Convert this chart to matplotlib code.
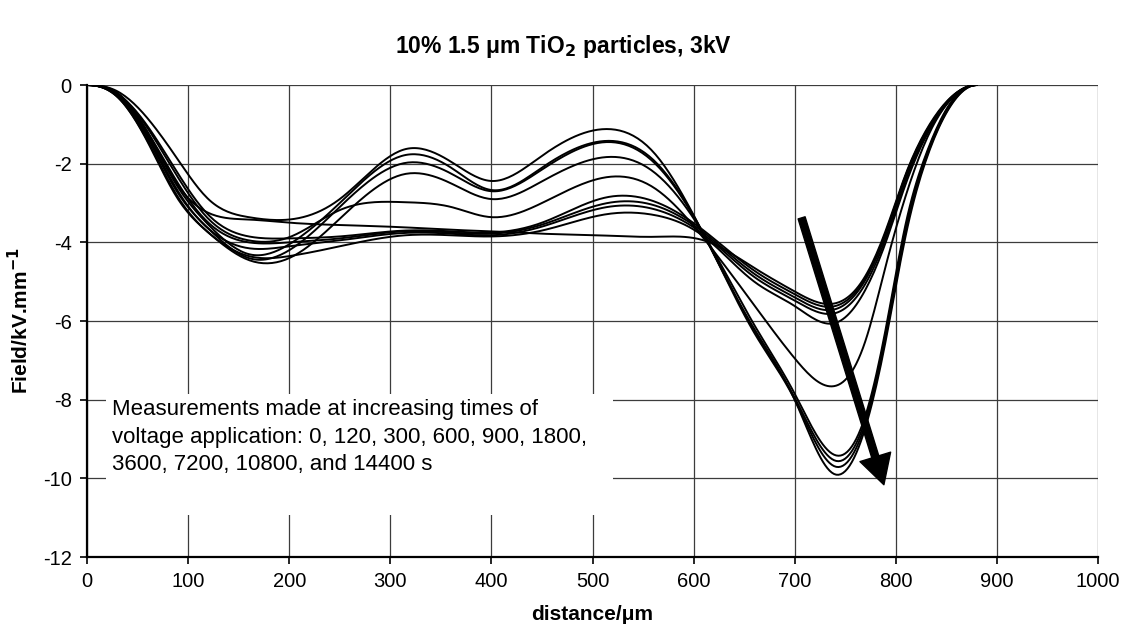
import numpy as np
import matplotlib
matplotlib.use("Agg")
import matplotlib.pyplot as plt
from matplotlib.patches import Rectangle, FancyArrowPatch

plt.rcParams['font.family'] = ['Liberation Sans', 'DejaVu Sans']

# distance positions (µm) at which field values were read
distance = [0, 30, 60, 90, 120, 160, 200, 250, 315, 360, 400, 450, 515, 560,
            610, 660, 700, 740, 770, 790, 810, 830, 855, 880]

# field (kV/mm) for each measurement time
field_0 = [0, -0.20, -1.20, -2.55, -3.25, -3.42, -3.50, -3.56, -3.62, -3.68, -3.72, -3.78,
           -3.83, -3.86, -3.95, -4.65, -5.25, -5.55, -4.85, -3.70, -2.25, -1.15, -0.30, 0]
field_120 = [0, -0.22, -1.05, -2.25, -3.30, -3.85, -3.90, -3.85, -3.70, -3.72, -3.75, -3.50,
             -2.85, -2.95, -3.70, -4.72, -5.32, -5.62, -4.90, -3.75, -2.28, -1.18, -0.31, 0]
field_300 = [0, -0.25, -1.20, -2.50, -3.50, -4.00, -4.00, -3.90, -3.72, -3.75, -3.78, -3.55,
             -3.00, -3.05, -3.75, -4.80, -5.40, -5.70, -4.95, -3.80, -2.30, -1.20, -0.32, 0]
field_600 = [0, -0.27, -1.30, -2.70, -3.65, -4.15, -4.10, -3.95, -3.76, -3.78, -3.82, -3.60,
             -3.10, -3.15, -3.80, -4.88, -5.48, -5.80, -5.05, -3.90, -2.40, -1.25, -0.33, 0]
field_900 = [0, -0.30, -1.42, -2.85, -3.75, -4.35, -4.35, -4.10, -3.82, -3.82, -3.85, -3.70,
             -3.28, -3.30, -3.85, -5.00, -5.62, -6.05, -5.20, -4.00, -2.50, -1.30, -0.35, 0]
field_1800 = [0, -0.22, -1.10, -2.35, -3.40, -3.95, -3.87, -3.18, -2.98, -3.10, -3.36, -3.00,
              -2.34, -2.60, -3.90, -5.60, -6.95, -7.65, -6.50, -4.60, -2.80, -1.40, -0.35, 0]
field_3600 = [0, -0.30, -1.45, -2.90, -3.75, -4.45, -4.40, -3.40, -2.26, -2.50, -2.90, -2.45,
              -1.83, -2.20, -3.80, -6.10, -7.85, -9.41, -8.40, -6.20, -3.50, -1.75, -0.42, 0]
field_7200 = [0, -0.28, -1.35, -2.75, -3.65, -4.40, -4.20, -3.10, -1.98, -2.25, -2.70, -2.15,
              -1.45, -1.95, -3.80, -6.25, -7.95, -9.55, -8.50, -6.30, -3.60, -1.80, -0.45, 0]
field_10800 = [0, -0.26, -1.25, -2.60, -3.55, -4.30, -4.05, -3.00, -1.78, -2.10, -2.67, -2.10,
               -1.42, -1.90, -3.80, -6.30, -8.00, -9.70, -8.60, -6.40, -3.70, -1.85, -0.48, 0]
field_14400 = [0, -0.16, -0.85, -1.90, -2.90, -3.36, -3.42, -2.90, -1.63, -1.95, -2.44, -1.80,
               -1.12, -1.70, -3.80, -6.20, -8.00, -9.90, -8.70, -6.50, -3.80, -1.90, -0.50, 0]

series = [field_0, field_120, field_300, field_600, field_900, field_1800,
          field_3600, field_7200, field_10800, field_14400]

x_ticks = [0, 100, 200, 300, 400, 500, 600, 700, 800, 900, 1000]
y_ticks = [0, -2, -4, -6, -8, -10, -12]

note = ("Measurements made at increasing times of\n"
        "voltage application: 0, 120, 300, 600, 900, 1800,\n"
        "3600, 7200, 10800, and 14400 s")


def smooth(xs, ys, n=400):
    """Clamped cubic spline (zero slope at both ends) through the read points."""
    x = np.asarray(xs, float)
    y = np.asarray(ys, float)
    N = len(x)
    h = np.diff(x)
    A = np.zeros((N, N))
    b = np.zeros(N)
    A[0, 0] = 2 * h[0]
    A[0, 1] = h[0]
    b[0] = 6 * ((y[1] - y[0]) / h[0])
    A[-1, -2] = h[-1]
    A[-1, -1] = 2 * h[-1]
    b[-1] = 6 * (-(y[-1] - y[-2]) / h[-1])
    for i in range(1, N - 1):
        A[i, i - 1] = h[i - 1]
        A[i, i] = 2 * (h[i - 1] + h[i])
        A[i, i + 1] = h[i]
        b[i] = 6 * ((y[i + 1] - y[i]) / h[i] - (y[i] - y[i - 1]) / h[i - 1])
    M = np.linalg.solve(A, b)
    xo = np.linspace(x[0], x[-1], n)
    idx = np.clip(np.searchsorted(x, xo) - 1, 0, N - 2)
    x0, x1 = x[idx], x[idx + 1]
    hh = x1 - x0
    t0 = x1 - xo
    t1 = xo - x0
    yo = (M[idx] * t0**3 / (6 * hh) + M[idx + 1] * t1**3 / (6 * hh)
          + (y[idx] / hh - M[idx] * hh / 6) * t0 + (y[idx + 1] / hh - M[idx + 1] * hh / 6) * t1)
    return xo, yo


fig = plt.figure(figsize=(11.27, 6.43), dpi=100)
ax = fig.add_axes([0.0772, 0.1337, 0.8971, 0.7341])

ax.set_xlim(0, 1000)
ax.set_ylim(-12, 0)
ax.set_xticks(x_ticks)
ax.set_yticks(y_ticks)
ax.set_xticklabels([str(v) for v in x_ticks])
ax.set_yticklabels([str(v) for v in y_ticks])
ax.tick_params(axis='both', labelsize=14.5, direction='out', length=5, width=1.2,
               color='black', pad=6)

for v in x_ticks:
    ax.axvline(v, color='#3c3c3c', lw=0.9, zorder=1)
for v in y_ticks:
    ax.axhline(v, color='#3c3c3c', lw=0.9, zorder=1)

for side in ['top', 'right']:
    ax.spines[side].set_visible(False)
for side in ['left', 'bottom']:
    ax.spines[side].set_linewidth(1.6)
    ax.spines[side].set_color('black')
    ax.spines[side].set_zorder(5)

for ys in series:
    sx, sy = smooth(distance, ys)
    ax.plot(sx, sy, color='black', lw=1.4, zorder=3, solid_capstyle='round')

# white note box covering the gridlines
ax.add_patch(Rectangle((18.8, -10.94), 501.2, 3.08, facecolor='white',
                       edgecolor='none', zorder=2))
ax.text(24.5, -7.98, note, fontsize=16, va='top', ha='left', linespacing=1.42,
        zorder=4)

arrow = FancyArrowPatch((706, -3.31), (789, -10.23),
                        arrowstyle='simple,head_length=1.0,head_width=1.1,tail_width=0.25',
                        mutation_scale=21, color='black', zorder=6)
ax.add_patch(arrow)

ax.set_xlabel('distance/\u03bcm', fontsize=15, fontweight='bold', labelpad=10)
ax.set_ylabel('Field/kV.mm$^{\\mathbf{-1}}$', fontsize=15, fontweight='bold', labelpad=8)

fig.text(0.5, 0.927, '10% 1.5 \u03bcm TiO$_{\\mathbf{2}}$ particles, 3kV', ha='center',
         va='center', fontsize=16.5, fontweight='bold')

fig.savefig('out.png', dpi=100)
